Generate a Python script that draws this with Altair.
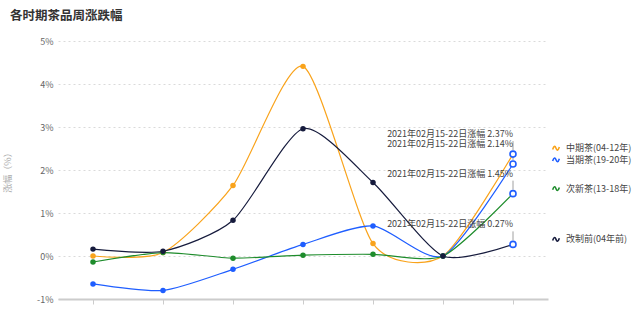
import altair as alt
import pandas as pd

weeks = ["01-04", "01-11", "01-18", "01-25", "02-01", "02-08", "02-15"]
series_names = ["中期茶(04-12年)", "当期茶(19-20年)", "次新茶(13-18年)", "改制前(04年前)"]
mid_tea = [0.00, 0.08, 1.64, 4.41, 0.29, 0.00, 2.37]
cur_tea = [-0.65, -0.80, -0.31, 0.27, 0.70, 0.00, 2.14]
new_tea = [-0.14, 0.08, -0.05, 0.02, 0.04, 0.00, 1.45]
old_tea = [0.16, 0.11, 0.83, 2.96, 1.71, 0.00, 0.27]
colors = ["#F9A31B", "#1F5EFF", "#1E8C2C", "#161B3D"]
last_label = "2021年02月15-22日涨幅"

FONT = "Noto Sans CJK SC"
values = [mid_tea, cur_tea, new_tea, old_tea]

rows = []
for name, vals in zip(series_names, values):
    for i, (w, v) in enumerate(zip(weeks, vals)):
        rows.append({"week": w, "series": name, "value": v, "idx": i})
df = pd.DataFrame(rows)

last_week = weeks[-1]
last_df = df[df["week"] == last_week].copy()
last_df["label"] = last_df["value"].map(lambda v: f"{last_label} {v:.2f}%")

# legend positions: start at the last values, spread apart when too close
order = sorted(range(len(series_names)), key=lambda k: -values[k][-1])
pos = {k: values[k][-1] for k in order}
gap = 0.27
for _ in range(20):
    for a, b in zip(order, order[1:]):
        if pos[a] - pos[b] < gap:
            m = (pos[a] + pos[b]) / 2
            pos[a], pos[b] = m + gap / 2, m - gap / 2
legend_df = pd.DataFrame({
    "series": series_names,
    "week": [last_week] * len(series_names),
    "ly": [pos[k] for k in range(len(series_names))],
})

color_scale = alt.Scale(domain=series_names, range=colors)
x_enc = alt.X("week:O", sort=weeks, scale=alt.Scale(type="point", padding=0.5),
              axis=alt.Axis(labels=False, title=None, domainColor="#CCCCCC", domainWidth=2,
                            tickColor="#CCCCCC", tickSize=5, tickWidth=1, grid=False))
x_plain = alt.X("week:O", sort=weeks)
y_enc = alt.Y("value:Q", scale=alt.Scale(domain=[-1, 5], nice=False, zero=False),
              axis=alt.Axis(values=[-1, 0, 1, 2, 3, 4, 5], labelExpr="datum.value + '%'",
                            title="涨幅（%）", titleColor="#AAAAAA", titleFontSize=9,
                            titleFontWeight="normal", titleFont=FONT, titleX=-46, titleY=129,
                            titleAlign="center", titleBaseline="bottom",
                            labelColor="#666666", labelFontSize=9, labelFont=FONT,
                            labelPadding=5, tickSize=0, domain=False,
                            grid=True, gridColor="#DADADA", gridDash=[2, 3], gridWidth=1))
y_plain = alt.Y("value:Q")

base = alt.Chart(df)

lines = base.mark_line(interpolate="cardinal", tension=0.3, strokeWidth=1.2).encode(
    x=x_enc, y=y_enc,
    color=alt.Color("series:N", scale=color_scale, legend=None),
    detail="series:N",
)

dots = base.transform_filter(f"datum.week != '{last_week}'").mark_circle(size=30, opacity=1).encode(
    x=x_plain, y=y_plain,
    color=alt.Color("series:N", scale=color_scale, legend=None),
)

leaders = alt.Chart(last_df).mark_rule(color="#A0A0A0", strokeWidth=1, yOffset=-13, y2Offset=-4).encode(
    x=x_plain, y=y_plain, y2="value:Q",
)

hollow = alt.Chart(last_df).mark_point(shape="circle", filled=True, fill="white", stroke="#1F5EFF",
                                       strokeWidth=1.6, size=36, opacity=1).encode(
    x=x_plain, y=y_plain,
)

notes = alt.Chart(last_df).mark_text(align="right", baseline="middle", dy=-20, fontSize=9,
                                     font=FONT, color="#444444").encode(
    x=x_plain, y=y_plain, text="label:N",
)

wave = "M-1,0.35 C-0.6,-0.9 -0.25,-0.7 0,0 C0.25,0.7 0.6,0.9 1,-0.35"
legend_icons = alt.Chart(legend_df).mark_point(shape=wave, filled=False, strokeWidth=1.6, size=45,
                                               opacity=1, xOffset=43, yOffset=-5).encode(
    x=x_plain, y=alt.Y("ly:Q"),
    stroke=alt.Color("series:N", scale=color_scale, legend=None),
)

legend_text = alt.Chart(legend_df).mark_text(align="left", baseline="middle", dx=53, dy=-5,
                                             fontSize=9, font=FONT, color="#444444").encode(
    x=x_plain, y=alt.Y("ly:Q"), text="series:N",
)

chart = alt.layer(lines, dots, leaders, hollow, notes, legend_icons, legend_text).properties(
    width=490, height=258,
    title=alt.TitleParams("各时期茶品周涨跌幅", anchor="start", frame="group", dx=-48, offset=15,
                          fontSize=12.5, fontWeight="bold", color="#333333", font=FONT),
    autosize=alt.AutoSizeParams(type="none"),
    padding={"left": 58, "top": 41, "right": 92, "bottom": 12},
).configure(background="white").configure_view(strokeWidth=0, stroke="transparent").configure_axisX(grid=False)

chart.save("out.html", embed_options={"renderer": "svg", "actions": False})
